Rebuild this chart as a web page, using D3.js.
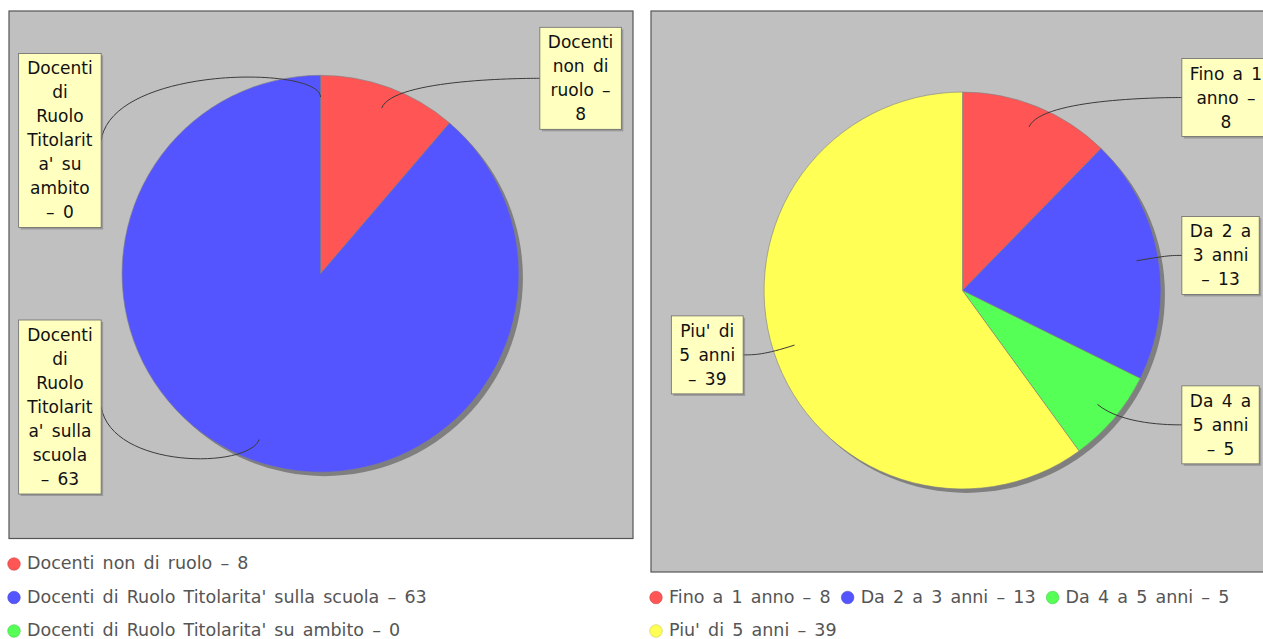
<!DOCTYPE html>
<html>
<head>
<meta charset="utf-8">
<script src="https://cdn.jsdelivr.net/npm/d3@7"></script>
<style>
  html, body { margin: 0; padding: 0; background: #ffffff; }
  svg { display: block; }
</style>
</head>
<body>
<svg id="chart" width="1263" height="639"></svg>
<script>
// ---------------- DATA ----------------
const leftCategories = [
  "Docenti non di ruolo",
  "Docenti di Ruolo Titolarita' sulla scuola",
  "Docenti di Ruolo Titolarita' su ambito"
];
const leftValues = [8, 63, 0];
const leftLabelLines = [
  ["Docenti", "non di", "ruolo –", "8"],
  ["Docenti", "di", "Ruolo", "Titolarit", "a' sulla", "scuola", "– 63"],
  ["Docenti", "di", "Ruolo", "Titolarit", "a' su", "ambito", "– 0"]
];

const rightCategories = ["Fino a 1 anno", "Da 2 a 3 anni", "Da 4 a 5 anni", "Piu' di 5 anni"];
const rightValues = [8, 13, 5, 39];
const rightLabelLines = [
  ["Fino a 1", "anno –", "8"],
  ["Da 2 a", "3 anni", "– 13"],
  ["Da 4 a", "5 anni", "– 5"],
  ["Piu' di", "5 anni", "– 39"]
];

const sliceColors = ["#ff5555", "#5555ff", "#55ff55", "#ffff55"];

// ---------------- RENDER ----------------
const FONT = "'DejaVu Sans', 'Liberation Sans', sans-serif";
const LABEL_SIZE = 17;
const LEGEND_SIZE = 17.5;
const LABEL_WORD_SP = 2.9;
const LEGEND_WORD_SP = 2.6;
const svg = d3.select("#chart");

const measurer = svg.append("text").attr("font-family", FONT).attr("x", -1000).attr("y", -1000);
function textW(s, size, ws) {
  measurer.attr("font-size", size).attr("word-spacing", ws).text(s);
  return measurer.node().getBBox().width;
}

// JFreeChart-like label distributor
function distribute(recs, minY, height, minGap) {
  recs.sort((a, b) => a.baseY - b.baseY);
  recs.forEach(r => { r.y = r.baseY; });
  const lo = r => r.y - r.h / 2, up = r => r.y + r.h / 2;
  const isOverlap = () => {
    let y = 0;
    for (const r of recs) { if (y > lo(r)) return true; y = up(r); }
    return false;
  };
  if (isOverlap()) {
    for (let i = 0; i < recs.length - 1; i++) {
      const r0 = recs[i], r1 = recs[i + 1];
      if (lo(r1) < up(r0)) r1.y = Math.min(minY + height - r1.h / 2, up(r0) + minGap + r1.h / 2);
    }
  }
  if (isOverlap()) {
    for (let i = recs.length - 1; i > 0; i--) {
      const r0 = recs[i], r1 = recs[i - 1];
      if (up(r1) > lo(r0)) r1.y = Math.max(minY + r1.h / 2, lo(r0) - minGap - r1.h / 2);
    }
  }
  if (isOverlap()) {
    let y = minY;
    const sum = d3.sum(recs, r => r.h);
    let gap = height - sum;
    if (recs.length > 1) gap = gap / (recs.length - 1);
    recs.forEach(r => { y += r.h / 2; r.y = y; y += r.h / 2 + gap; });
  }
}

function drawChart(x0, categories, values, labelLines) {
  const g = svg.append("g");
  const px = x0 + 9, py = 11, pw = 624;

  // legend layout (flow, left aligned)
  const items = categories.map((c, i) => ({ text: c + " – " + values[i], color: sliceColors[i] }));
  const legLeft = x0 + 8, legRight = x0 + 8 + pw;
  const rows = [];
  let cur = [], cx0 = legLeft;
  items.forEach(it => {
    it.w = 19 + textW(it.text, LEGEND_SIZE, LEGEND_WORD_SP);
    if (cur.length && cx0 + it.w > legRight) { rows.push(cur); cur = []; cx0 = legLeft; }
    it.x = cx0; cur.push(it); cx0 += it.w + 11;
  });
  rows.push(cur);
  const nRows = rows.length;
  const rowY = i => 630 - (nRows - 1 - i) * 33.5;

  const ph = rowY(0) - 24.5 - py;

  // plot background
  g.append("rect").attr("x", px).attr("y", py).attr("width", pw).attr("height", ph)
    .attr("fill", "#c0c0c0").attr("stroke", "#555555").attr("stroke-width", 1.2);

  const cx = px + pw / 2 - 0.5, cy = py + ph / 2 - 1, R = pw * 0.318;

  const pie = d3.pie().sort(null).value(d => d);
  const arcs = pie(values);
  const arcGen = d3.arc().innerRadius(0).outerRadius(R);

  const pg = g.append("g").attr("transform", `translate(${cx},${cy})`);
  // shadow
  pg.append("circle").attr("cx", 4).attr("cy", 4).attr("r", R).attr("fill", "#7f7f7f");
  // slices
  pg.selectAll("path.slice").data(arcs.filter(a => a.value > 0)).join("path")
    .attr("class", "slice")
    .attr("d", arcGen)
    .attr("fill", d => sliceColors[d.index])
    .attr("stroke", "#808080").attr("stroke-width", 0.6);

  // label records
  const linkR = R * 0.89, elbowR = R * 1.05, gap = 11, lineH = 24, pad = 8;
  const recs = arcs.map((a, i) => {
    const mid = (a.startAngle + a.endAngle) / 2;
    const right = mid < Math.PI;
    const sx = Math.sin(mid), sy = -Math.cos(mid);
    const lines = labelLines[i];
    const bw = d3.max(lines, l => textW(l, LABEL_SIZE, LABEL_WORD_SP)) + 2 * pad;
    const bh = lines.length * lineH + 6;
    return {
      right, lines, bw, h: bh,
      linkX: cx + sx * linkR, linkY: cy + sy * linkR,
      elbowX: cx + sx * elbowR, elbowY: cy + sy * elbowR,
      baseY: cy + sy * elbowR
    };
  });
  const minY = cy - R * 1.11, height = R * 2.22;
  distribute(recs.filter(r => r.right), minY, height, 4);
  distribute(recs.filter(r => !r.right), minY, height, 4);

  recs.forEach(r => {
    const anchorX = r.right ? cx + elbowR : cx - elbowR;
    const targetX = r.right ? anchorX + gap : anchorX - gap;
    const targetY = r.y;
    g.append("path")
      .attr("d", `M${targetX},${targetY} C${anchorX},${r.elbowY} ${r.elbowX},${r.elbowY} ${r.linkX},${r.linkY}`)
      .attr("fill", "none").attr("stroke", "#3a3a3a").attr("stroke-width", 1);

    const bx = r.right ? targetX : targetX - r.bw;
    const by = targetY - r.h / 2;
    const lg = g.append("g");
    lg.append("rect").attr("x", bx + 2).attr("y", by + 2).attr("width", r.bw).attr("height", r.h)
      .attr("fill", "rgba(120,120,120,0.55)");
    lg.append("rect").attr("x", bx).attr("y", by).attr("width", r.bw).attr("height", r.h)
      .attr("fill", "#ffffc0").attr("stroke", "#6a6a6a").attr("stroke-width", 0.8);
    lg.selectAll("text").data(r.lines).join("text")
      .attr("x", bx + r.bw / 2)
      .attr("y", (d, j) => by + 3 + lineH / 2 + j * lineH)
      .attr("text-anchor", "middle").attr("dominant-baseline", "central")
      .attr("word-spacing", LABEL_WORD_SP)
      .attr("font-family", FONT).attr("font-size", LABEL_SIZE).attr("fill", "#111")
      .text(d => d);
  });

  // legend
  rows.forEach((row, ri) => {
    const y = rowY(ri);
    row.forEach(it => {
      g.append("circle").attr("cx", it.x + 6).attr("cy", y + 1).attr("r", 6.3)
        .attr("fill", it.color).attr("stroke", d3.color(it.color).darker(0.8)).attr("stroke-width", 0.5);
      g.append("text").attr("x", it.x + 19).attr("y", y)
        .attr("dominant-baseline", "central")
        .attr("word-spacing", LEGEND_WORD_SP)
        .attr("font-family", FONT).attr("font-size", LEGEND_SIZE).attr("fill", "#555555")
        .text(it.text);
    });
  });
}

drawChart(0, leftCategories, leftValues, leftLabelLines);
drawChart(642, rightCategories, rightValues, rightLabelLines);
measurer.remove();
</script>
</body>
</html>
